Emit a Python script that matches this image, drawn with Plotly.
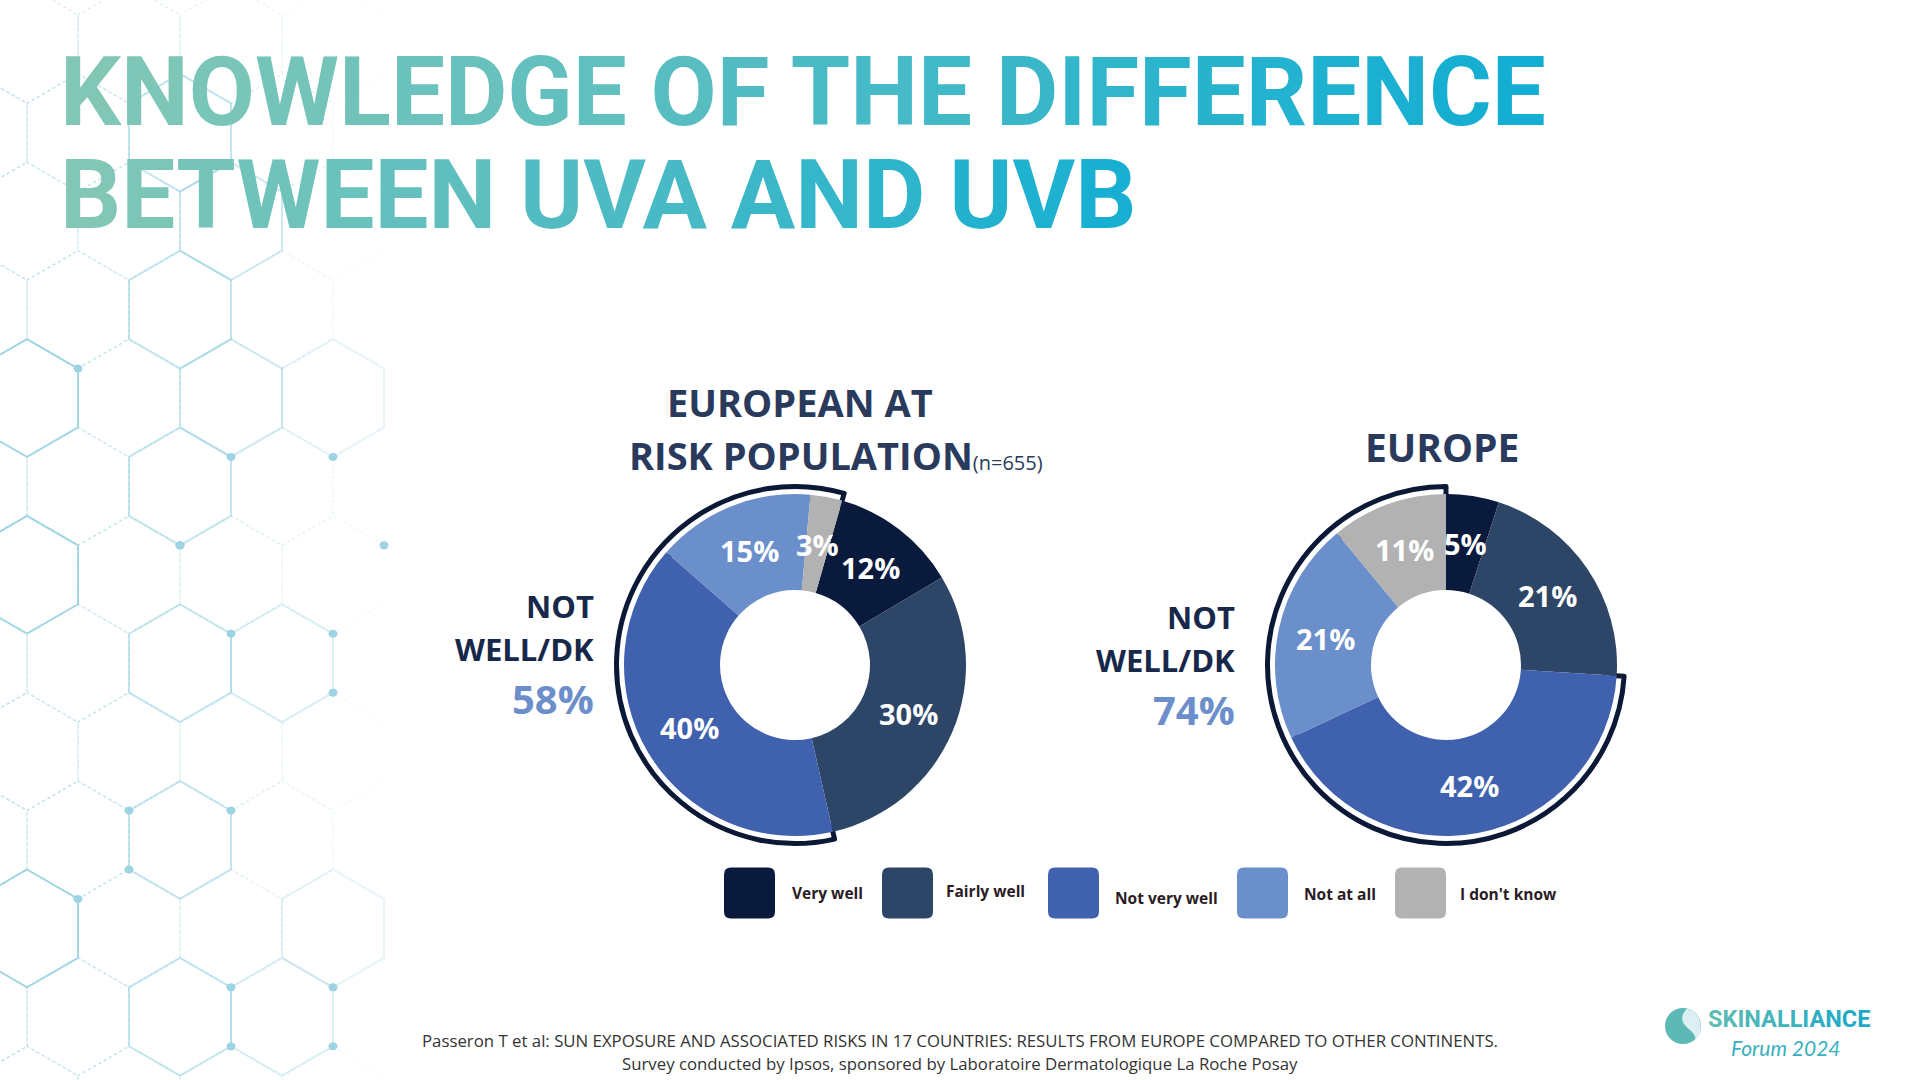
import math
import plotly.graph_objects as go

# ---------------- data ----------------
categories = ["Very well", "Fairly well", "Not very well", "Not at all", "I don't know"]
colors = ["#0A1A3C", "#2D4567", "#4061AD", "#6B8FCB", "#B2B2B2"]
risk_values = [12, 30, 40, 15, 3]
europe_values = [5, 21, 42, 21, 11]
not_well_idx = [2, 3, 4]
chart_titles = ["EUROPEAN AT", "RISK POPULATION", "EUROPE"]
risk_n = "(n=655)"

# ---------------- layout constants ----------------
W, H = 1920, 1080
HEAD_FONT = "Open Sans"
HOLE_R = 75


def px(x):
    return x / W


def py(y):
    return 1 - y / H


def dom(cx, cy, r):
    return dict(x=[px(cx - r), px(cx + r)], y=[py(cy + r), py(cy - r)])


donuts = [
    dict(cx=795, cy=665, r=171, rot=16, values=risk_values, side_x=596, side_y=(606, 649, 698)),
    dict(cx=1446, cy=665, r=171, rot=0, values=europe_values, side_x=1237, side_y=(617, 660, 709)),
]

fig = go.Figure()

for d in donuts:
    vals = d["values"]
    total = sum(vals)
    nw = sum(vals[i] for i in not_well_idx)
    wl = total - nw
    ro = d["r"] + 7.5
    # outline bracket around the "not well / don't know" group
    fig.add_trace(go.Pie(
        values=[wl, nw], sort=False, direction="clockwise", rotation=d["rot"],
        hole=(d["r"] - 5) / ro, domain=dom(d["cx"], d["cy"], ro),
        marker=dict(colors=["rgba(0,0,0,0)", "white"],
                    line=dict(color=["rgba(0,0,0,0)", "#0B1836"], width=[0, 5])),
        textinfo="none", hoverinfo="skip", showlegend=False,
    ))
    # main donut
    fig.add_trace(go.Pie(
        values=vals, labels=categories, sort=False, direction="clockwise", rotation=d["rot"],
        hole=HOLE_R / d["r"], domain=dom(d["cx"], d["cy"], d["r"]),
        marker=dict(colors=colors, line=dict(width=0)),
        textinfo="none", hoverinfo="skip", showlegend=False,
    ))
    # slice value labels, placed at the middle of each slice (ring mid-radius)
    rm = (HOLE_R + d["r"]) / 2
    cum = 0
    for v in vals:
        mid = math.radians(d["rot"] + 360 * (cum + v / 2) / total)
        cum += v
        fig.add_annotation(x=px(d["cx"] + rm * math.sin(mid)), y=py(d["cy"] - rm * math.cos(mid)),
                           xref="paper", yref="paper", text=f"{v}%", showarrow=False,
                           xanchor="center", yanchor="middle",
                           font=dict(family=HEAD_FONT, size=29, color="white", weight=700))
    # side label
    for txt, yy, sz, col in [("NOT", d["side_y"][0], 31, "#17284A"),
                             ("WELL/DK", d["side_y"][1], 31, "#17284A"),
                             (f"{nw}%", d["side_y"][2], 40, "#6C8FCB")]:
        fig.add_annotation(x=px(d["side_x"]), y=py(yy), xref="paper", yref="paper", text=txt,
                           showarrow=False, xanchor="right", yanchor="middle",
                           font=dict(family=HEAD_FONT, size=sz, color=col, weight=700))

# chart headings
fig.add_annotation(x=px(800), y=py(402), xref="paper", yref="paper", text=chart_titles[0],
                   showarrow=False, xanchor="center", yanchor="middle",
                   font=dict(family=HEAD_FONT, size=38, color="#2A3A5C", weight=700))
fig.add_annotation(x=px(627), y=py(455), xref="paper", yref="paper",
                   text=f"{chart_titles[1]}<span style='font-size:20px;font-weight:400'>{risk_n}</span>",
                   showarrow=False, xanchor="left", yanchor="middle",
                   font=dict(family=HEAD_FONT, size=38, color="#2A3A5C", weight=700))
fig.add_annotation(x=px(1442), y=py(446), xref="paper", yref="paper", text=chart_titles[2],
                   showarrow=False, xanchor="center", yanchor="middle",
                   font=dict(family=HEAD_FONT, size=39, color="#2A3A5C", weight=700))


# ---------------- title with gradient ----------------
def lerp_col(c1, c2, t):
    a = [int(c1[i:i + 2], 16) for i in (1, 3, 5)]
    b = [int(c2[i:i + 2], 16) for i in (1, 3, 5)]
    return "#" + "".join(f"{round(a[k] + (b[k] - a[k]) * t):02X}" for k in range(3))


def gradient_text(s, c1, c2, span_frac=1.0):
    out = []
    n = len(s)
    for i, ch in enumerate(s):
        t = span_frac * i / max(n - 1, 1)
        out.append(f"<span style='color:{lerp_col(c1, c2, t)}'>{ch}</span>")
    return "".join(out)


title_lines = ["KNOWLEDGE OF THE DIFFERENCE", "BETWEEN UVA AND UVB"]
for line, yy, frac in [(title_lines[0], 92, 1.0), (title_lines[1], 195, 0.95)]:
    fig.add_annotation(x=px(58), y=py(yy), xref="paper", yref="paper",
                       text=gradient_text(line, "#82C7B6", "#12AED3", frac),
                       showarrow=False, xanchor="left", yanchor="middle",
                       font=dict(family="Roboto", size=96, weight=700))

# ---------------- custom legend ----------------
legend_sw_x = [724, 882, 1048, 1237, 1395]
legend_tx_x = [790, 944, 1113, 1302, 1458]
legend_tx_y = [893, 891, 898, 894, 894]
SW = 51
SW_CY = 893


def rrect(x0, y0, x1, y1, rad):
    X = lambda v: px(v)
    Y = lambda v: py(v)
    return (f"M {X(x0 + rad)} {Y(y0)} L {X(x1 - rad)} {Y(y0)} Q {X(x1)} {Y(y0)} {X(x1)} {Y(y0 + rad)} "
            f"L {X(x1)} {Y(y1 - rad)} Q {X(x1)} {Y(y1)} {X(x1 - rad)} {Y(y1)} "
            f"L {X(x0 + rad)} {Y(y1)} Q {X(x0)} {Y(y1)} {X(x0)} {Y(y1 - rad)} "
            f"L {X(x0)} {Y(y0 + rad)} Q {X(x0)} {Y(y0)} {X(x0 + rad)} {Y(y0)} Z")


shapes = []
for cat, col, sx, tx, ty in zip(categories, colors, legend_sw_x, legend_tx_x, legend_tx_y):
    shapes.append(dict(type="path", xref="paper", yref="paper",
                       path=rrect(sx, SW_CY - SW / 2, sx + SW, SW_CY + SW / 2, 7),
                       fillcolor=col, line=dict(width=0), layer="above"))
    fig.add_annotation(x=px(tx), y=py(ty), xref="paper", yref="paper", text=cat,
                       showarrow=False, xanchor="left", yanchor="middle",
                       font=dict(family="Open Sans", size=15.5, color="#2A1C24", weight=700))

# ---------------- background hexagons ----------------
HW, HR = 102, 58.9


def hex_path(cx, cy):
    pts = [(cx, cy - HR), (cx + HW / 2, cy - HR / 2), (cx + HW / 2, cy + HR / 2),
           (cx, cy + HR), (cx - HW / 2, cy + HR / 2), (cx - HW / 2, cy - HR / 2)]
    return "M " + " L ".join(f"{px(a)} {py(b)}" for a, b in pts) + " Z"


def hex_center(i, j):
    return 231 + HW * i + (HW / 2 if j % 2 else 0), 398 + 88.4 * j


solid = {(0, 0), (1, 0), (-1, -1), (-2, 0), (-1, 1), (-2, 2), (0, 3), (-1, 3), (1, 6), (-1, 5),
         (-2, 6), (-1, 7), (0, 7), (-1, -3), (0, -2)}
for j in range(-4, 9):
    for i in range(-3, 2):
        cx, cy = hex_center(i, j)
        if cx > 340 or cx < -60:
            continue
        fade = max(0.25, 1 - max(cx, 0) / 450)
        if (i, j) in solid:
            shapes.append(dict(type="path", xref="paper", yref="paper", path=hex_path(cx, cy),
                               line=dict(color=f"rgba(140,205,222,{0.85 * fade:.2f})", width=2),
                               layer="below"))
        else:
            shapes.append(dict(type="path", xref="paper", yref="paper", path=hex_path(cx, cy),
                               line=dict(color=f"rgba(170,215,228,{0.6 * fade:.2f})", width=1.3, dash="dot"),
                               layer="below"))

dots = [(0, 0, 3), (1, 0, 3), (-1, 2, 1), (0, 2, 3), (1, 2, 3), (-1, 4, 3), (0, 4, 3), (1, 4, 0), (-2, 5, 3),
        (0, 6, 3), (1, 6, 3), (-1, 6, 0), (-1, 1, 3), (1, 1, 3), (-2, -1, 3), (0, 8, 0), (1, 8, 0)]
for i, j, k in dots:
    cx, cy = hex_center(i, j)
    vx, vy = [(cx, cy - HR), (cx + HW / 2, cy - HR / 2), (cx + HW / 2, cy + HR / 2),
              (cx, cy + HR), (cx - HW / 2, cy + HR / 2), (cx - HW / 2, cy - HR / 2)][k]
    if vx < 0 or vx > 400:
        continue
    shapes.append(dict(type="circle", xref="paper", yref="paper",
                       x0=px(vx - 4.5), x1=px(vx + 4.5), y0=py(vy + 4), y1=py(vy - 4),
                       fillcolor="#9ED3E4", line=dict(width=0), layer="below"))

# ---------------- footer & logo ----------------
footer = ["Passeron T et al: SUN EXPOSURE AND ASSOCIATED RISKS IN 17 COUNTRIES: RESULTS FROM EUROPE COMPARED TO OTHER CONTINENTS.",
          "Survey conducted by Ipsos, sponsored by Laboratoire Dermatologique La Roche Posay"]
for txt, yy in zip(footer, [1040, 1063]):
    fig.add_annotation(x=px(960), y=py(yy), xref="paper", yref="paper", text=txt, showarrow=False,
                       xanchor="center", yanchor="middle",
                       font=dict(family="Open Sans", size=16.8, color="#333333"))

shapes.append(dict(type="circle", xref="paper", yref="paper", x0=px(1665), x1=px(1701),
                   y0=py(1044), y1=py(1008), fillcolor="#5CB9B6", line=dict(width=0), layer="above"))
shapes.append(dict(type="path", xref="paper", yref="paper",
                   path=f"M {px(1687)} {py(1008.5)} Q {px(1676)} {py(1020)} {px(1690)} {py(1030)} "
                        f"Q {px(1699)} {py(1038)} {px(1693)} {py(1042)} Q {px(1702)} {py(1034)} {px(1700.5)} {py(1024)} "
                        f"Q {px(1699)} {py(1012)} {px(1687)} {py(1008.5)} Z",
                   fillcolor="#DDEFF2", line=dict(width=0), layer="above"))
fig.add_annotation(x=px(1706), y=py(1019), xref="paper", yref="paper",
                   text=gradient_text("SKINALLIANCE", "#5EBDB3", "#1DA8C9"), showarrow=False,
                   xanchor="left", yanchor="middle", font=dict(family="Roboto", size=23.5, weight=700))
fig.add_annotation(x=px(1729), y=py(1047), xref="paper", yref="paper",
                   text="<i>Forum 2024</i>", showarrow=False, xanchor="left", yanchor="middle",
                   font=dict(family="Lato", size=21, color="#3AAFC0"))

fig.update_layout(
    width=W, height=H, margin=dict(l=0, r=0, t=0, b=0),
    paper_bgcolor="white", plot_bgcolor="white",
    shapes=shapes, showlegend=False,
)

fig.write_html("out.html")
